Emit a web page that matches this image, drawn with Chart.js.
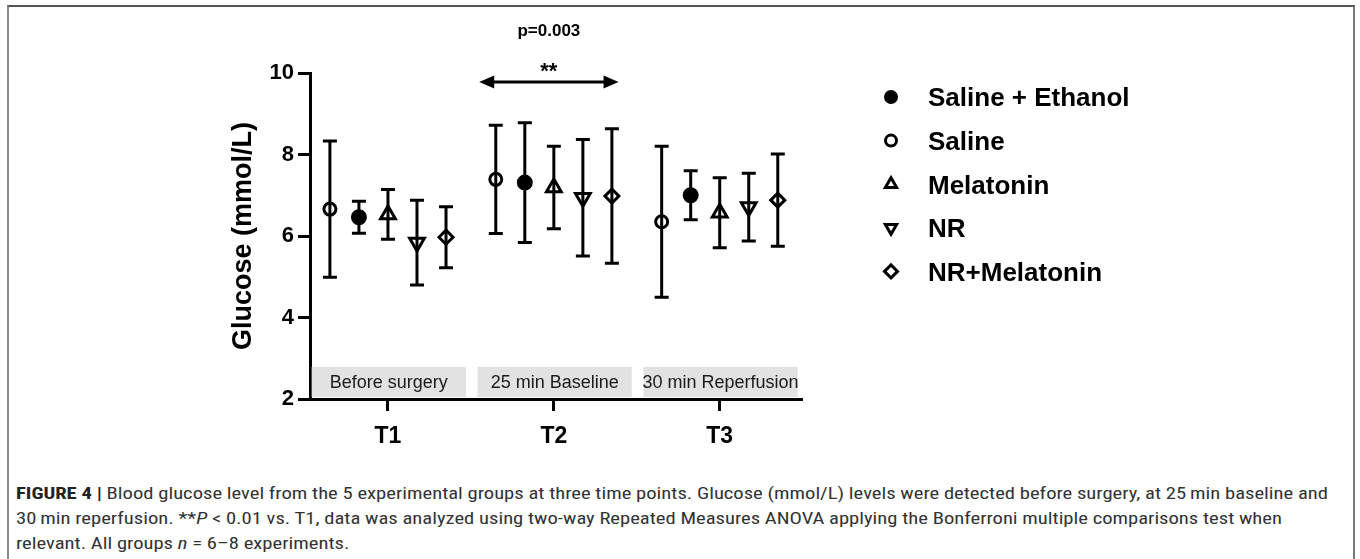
<!DOCTYPE html>
<html>
<head>
<meta charset="utf-8">
<script src="https://cdn.jsdelivr.net/npm/chart.js@4.4.0/dist/chart.umd.min.js"></script>
<style>
html,body{margin:0;padding:0;background:#fff;width:1360px;height:559px;overflow:hidden;}
#frame{position:absolute;left:7px;top:5px;width:1348px;height:570px;border-top:2px solid #555;border-left:2px solid #8a8a8a;border-right:2px solid #777;box-sizing:border-box;}
#wrap{position:absolute;left:0;top:0;width:1360px;height:470px;}
.cap{position:absolute;left:16px;white-space:nowrap;font-family:"Liberation Sans Narrow","Roboto Condensed",Roboto,"Liberation Sans",sans-serif;font-size:16px;color:#333;transform-origin:0 50%;line-height:20px;}
.cap b{color:#222;}
</style>
</head>
<body>
<div id="frame"></div>
<div id="wrap"><canvas id="c"></canvas></div>
<div class="cap" id="l1" style="top:484px"><b>FIGURE 4 |</b> Blood glucose level from the 5 experimental groups at three time points. Glucose (mmol/L) levels were detected before surgery, at 25&#8201;min baseline and</div>
<div class="cap" id="l2" style="top:509px">30&#8201;min reperfusion. **<i>P</i> &lt; 0.01 vs. T1, data was analyzed using two-way Repeated Measures ANOVA applying the Bonferroni multiple comparisons test when</div>
<div class="cap" id="l3" style="top:534px">relevant. All groups <i>n</i> = 6–8 experiments.</div>
<script>
// ---- data ----
const timePoints = ['T1', 'T2', 'T3'];
const phaseLabels = ['Before surgery', '25 min Baseline', '30 min Reperfusion'];
const groupNames = ['Saline + Ethanol', 'Saline', 'Melatonin', 'NR', 'NR+Melatonin'];
const salineEthanolMean = [6.46, 7.31, 7.00];
const salineEthanolSD   = [0.39, 1.47, 0.60];
const salineMean        = [6.66, 7.39, 6.35];
const salineSD          = [1.67, 1.33, 1.85];
const melatoninMean     = [6.53, 7.19, 6.57];
const melatoninSD       = [0.61, 1.01, 0.86];
const nrMean            = [5.84, 6.94, 6.71];
const nrSD              = [1.04, 1.43, 0.83];
const nrMelatoninMean   = [5.97, 6.98, 6.88];
const nrMelatoninSD     = [0.75, 1.65, 1.13];
const yTicks = [2, 4, 6, 8, 10];
const pValueText = 'p=0.003';
const sigStars = '**';

// ---- layout / style constants ----
const FONT = '"Liberation Sans", Arial, Helvetica, sans-serif';
const slot = 0.175;             // horizontal dodge between groups (x units)
const groupSlots = [-1, -2, 0, 1, 2]; // order of groups within a time point
const styles = [
  {pointStyle: 'circle', rotation: 0, radius: 6.5, fill: '#000'},
  {pointStyle: 'circle', rotation: 0, radius: 6, fill: 'rgba(0,0,0,0)'},
  {pointStyle: 'triangle', rotation: 0, radius: 8.5, fill: 'rgba(0,0,0,0)'},
  {pointStyle: 'triangle', rotation: 180, radius: 8.5, fill: 'rgba(0,0,0,0)'},
  {pointStyle: 'rectRot', rotation: 0, radius: 7, fill: 'rgba(0,0,0,0)'}
];
const means = [salineEthanolMean, salineMean, melatoninMean, nrMean, nrMelatoninMean];
const sds = [salineEthanolSD, salineSD, melatoninSD, nrSD, nrMelatoninSD];

const datasets = groupNames.map((name, g) => ({
  label: name,
  data: timePoints.map((t, i) => ({x: i + 1 + groupSlots[g] * slot, y: means[g][i], sd: sds[g][i]})),
  showLine: false,
  pointStyle: styles[g].pointStyle,
  rotation: styles[g].rotation,
  pointRadius: styles[g].radius,
  pointHoverRadius: styles[g].radius,
  pointBorderWidth: 3,
  pointHoverBorderWidth: 3,
  pointBorderColor: '#000',
  pointBackgroundColor: styles[g].fill
}));

const backdropPlugin = {
  id: 'backdrop',
  beforeDatasetsDraw(chart) {
    const {ctx, scales: {x, y}} = chart;
    ctx.save();
    // phase boxes
    phaseLabels.forEach((lab, i) => {
      const l = x.getPixelForValue(i + 1 - 0.46), r = x.getPixelForValue(i + 1 + 0.47);
      const t = y.getPixelForValue(2.79), b = y.getPixelForValue(2) - 2;
      ctx.fillStyle = '#e2e2e2';
      ctx.fillRect(l, t, r - l, b - t);
      ctx.fillStyle = '#1a1a1a';
      ctx.font = '18px ' + FONT;
      ctx.textAlign = 'center';
      ctx.textBaseline = 'middle';
      ctx.fillText(lab, (l + r) / 2, (t + b) / 2 + 1);
    });
    // error bars
    ctx.strokeStyle = '#000';
    ctx.lineWidth = 3;
    chart.data.datasets.forEach(ds => {
      ds.data.forEach(p => {
        const px = x.getPixelForValue(p.x);
        const yt = y.getPixelForValue(p.y + p.sd), yb = y.getPixelForValue(p.y - p.sd);
        ctx.beginPath();
        ctx.moveTo(px, yt); ctx.lineTo(px, yb);
        ctx.moveTo(px - 7, yt); ctx.lineTo(px + 7, yt);
        ctx.moveTo(px - 7, yb); ctx.lineTo(px + 7, yb);
        ctx.stroke();
      });
    });
    ctx.restore();
  },
  afterDraw(chart) {
    const {ctx, scales: {x, y}} = chart;
    ctx.save();
    // significance arrow
    const ax1 = x.getPixelForValue(1.55), ax2 = x.getPixelForValue(2.39), ay = y.getPixelForValue(9.78);
    ctx.strokeStyle = '#000'; ctx.fillStyle = '#000'; ctx.lineWidth = 3;
    ctx.beginPath(); ctx.moveTo(ax1 + 8, ay); ctx.lineTo(ax2 - 8, ay); ctx.stroke();
    ctx.beginPath(); ctx.moveTo(ax1, ay); ctx.lineTo(ax1 + 15, ay - 6.5); ctx.lineTo(ax1 + 15, ay + 6.5); ctx.closePath(); ctx.fill();
    ctx.beginPath(); ctx.moveTo(ax2, ay); ctx.lineTo(ax2 - 15, ay - 6.5); ctx.lineTo(ax2 - 15, ay + 6.5); ctx.closePath(); ctx.fill();
    const cx = (ax1 + ax2) / 2;
    ctx.textAlign = 'center'; ctx.textBaseline = 'alphabetic';
    ctx.font = 'bold 22px ' + FONT;
    ctx.fillText(sigStars, cx, ay - 4);
    ctx.font = 'bold 17px ' + FONT;
    ctx.fillText(pValueText, cx, y.getPixelForValue(11.05) + 6);
    // legend
    chart.data.datasets.forEach((ds, g) => {
      const ly = 97 + g * 43.6, lx = 891;
      ctx.fillStyle = styles[g].fill; ctx.strokeStyle = '#000'; ctx.lineWidth = 3;
      const r = styles[g].pointStyle === 'circle' ? 5.5 : 6.5;
      Chart.helpers.drawPoint(ctx, {pointStyle: styles[g].pointStyle, rotation: styles[g].rotation, radius: r, borderWidth: 3}, lx, ly);
      ctx.fillStyle = '#000';
      ctx.font = 'bold 26px ' + FONT;
      ctx.textAlign = 'left'; ctx.textBaseline = 'alphabetic';
      ctx.fillText(ds.label, 928, ly + 9.3);
    });
    ctx.restore();
  }
};

new Chart(document.getElementById('c'), {
  type: 'scatter',
  data: {datasets},
  plugins: [backdropPlugin],
  options: {
    responsive: true,
    maintainAspectRatio: false,
    animation: false,
    events: [],
    layout: {padding: {left: 227, top: 73, right: 559, bottom: 11}},
    plugins: {legend: {display: false}, tooltip: {enabled: false}, title: {display: false}},
    scales: {
      x: {
        type: 'linear', min: 0.53, max: 3.49,
        afterBuildTicks: s => { s.ticks = timePoints.map((t, i) => ({value: i + 1})); },
        ticks: {callback: v => timePoints[Math.round(v) - 1] || '', font: {family: FONT, size: 23, weight: 'bold'}, color: '#000', padding: 12, autoSkip: false, maxRotation: 0},
        grid: {display: true, drawOnChartArea: false, drawTicks: true, tickLength: 12, color: '#000', lineWidth: 3},
        border: {display: true, color: '#000', width: 3},
        afterFit: s => { s.height = 60; }
      },
      y: {
        min: 2, max: 10,
        afterBuildTicks: s => { s.ticks = yTicks.map(v => ({value: v})); },
        ticks: {font: {family: FONT, size: 22, weight: 'bold'}, color: '#000', padding: 4},
        grid: {display: true, drawOnChartArea: false, drawTicks: true, tickLength: 12, color: '#000', lineWidth: 3},
        border: {display: true, color: '#000', width: 3},
        title: {display: true, text: 'Glucose (mmol/L)', font: {family: FONT, size: 27, weight: 'bold'}, color: '#000', padding: 0},
        afterFit: s => { s.width = 83; }
      }
    }
  }
});

// fit caption lines to the reference width
(function fitCaption() {
  const l1 = document.getElementById('l1');
  const w = l1.getBoundingClientRect().width;
  const s = 1312 / w;
  ['l1', 'l2', 'l3'].forEach(id => { document.getElementById(id).style.transform = 'scaleX(' + s + ')'; });
})();
</script>
</body>
</html>
